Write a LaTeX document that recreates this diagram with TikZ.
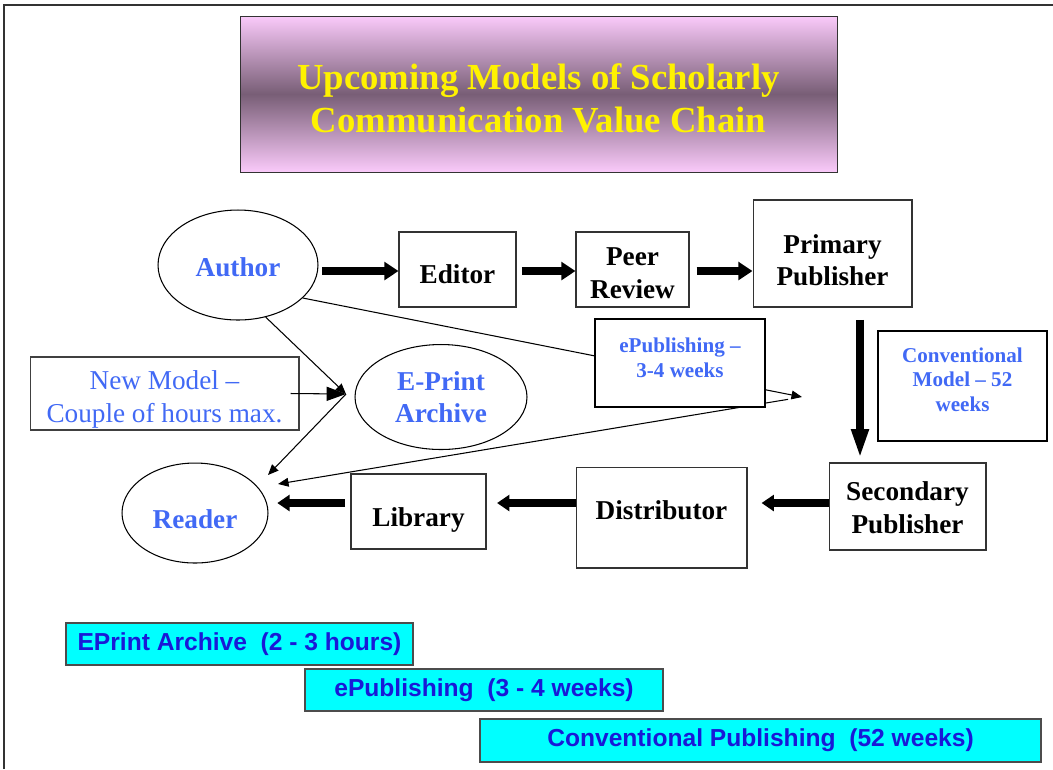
\documentclass[tikz,border=0pt]{standalone}
\usepackage{fontspec}
\setmainfont{Liberation Serif}
\setsansfont{Liberation Sans}
\usepackage{xcolor}
\usepackage{tikz}
\usetikzlibrary{positioning, arrows.meta, shapes.geometric}

\definecolor{titlepink}{RGB}{250,202,250}
\definecolor{titlemauve}{RGB}{120,94,118}
\definecolor{linkblue}{RGB}{65,105,245}
\definecolor{bandblue}{RGB}{25,25,215}
\definecolor{bandcyan}{RGB}{0,255,255}
\newcommand{\titlefnt}{\fontsize{20.9}{24.5}\selectfont\bfseries}
\newcommand{\boxfnt}{\fontsize{15.5}{18.5}\selectfont\bfseries}
\newcommand{\modelfnt}{\fontsize{15.5}{18.5}\selectfont}
\newcommand{\notefnt}{\fontsize{12}{14}\selectfont\bfseries}
\newcommand{\bandfnt}{\sffamily\bfseries\fontsize{14}{16}\selectfont}

\begin{document}
\begin{tikzpicture}[
    x=0.02cm, y=-0.02cm,
    % Styles
    titlebox/.style={draw=black!80, top color=titlepink, bottom color=titlepink,
        middle color=titlemauve, minimum width=11.94cm, minimum height=3.12cm},
    box/.style={draw=black!80, line width=0.6pt, fill=white},
    oval/.style={draw, ellipse, line width=0.6pt, fill=white, inner sep=0pt},
    modelbox/.style={draw=black!75, line width=0.6pt, fill=white},
    notebox/.style={draw, line width=1.1pt, fill=white},
    boxtext/.style={font=\boxfnt, align=center},
    bluetext/.style={font=\boxfnt, text=linkblue, align=center},
    modeltext/.style={font=\modelfnt, text=linkblue, align=center},
    notetext/.style={font=\notefnt, text=linkblue, align=center},
    band/.style={draw=black!70, line width=0.8pt, fill=bandcyan, font=\bandfnt,
        text=bandblue, minimum height=0.84cm},
    frame/.style={line width=1.2pt, black!80},
    fatarr/.style={-{Triangle[length=8pt,width=10pt]}, line width=4.5pt},
    droparr/.style={-{Triangle[length=17pt,width=9pt]}, line width=4.5pt},
    backarr/.style={-{Triangle[length=7pt,width=9pt]}, line width=4.5pt},
    thinarr/.style={-{Triangle[length=6pt,width=5pt]}, line width=0.6pt},
]
\useasboundingbox (0,0) rectangle (1053,769);

% ===== Slide frame =====
\draw[frame] (4,769) -- (4,5) -- (1053,5);

% ===== Title =====
\node[titlebox] (title) at (538.5,94) {};
\node[font=\titlefnt, text=yellow, align=center] at ([yshift=-0.08cm]title.center)
    {Upcoming Models of Scholarly\\Communication Value Chain};

% ===== Top row: conventional chain =====
\node[oval, minimum width=3.2cm, minimum height=2.2cm] (author) at (238,265) {};
\node[bluetext] at ([yshift=-0.04cm]author.center) {Author};
\node[box, minimum width=2.34cm, minimum height=1.5cm] (editor)
    at (457.5,269.5) {};
\node[boxtext] at ([yshift=-0.1cm]editor.center) {Editor};
\node[box, minimum width=2.26cm, minimum height=1.5cm] (peer)
    at (632.5,269.5) {};
\node[boxtext] at ([yshift=-0.07cm]peer.center) {Peer\\Review};
\node[box, minimum width=3.18cm, minimum height=2.14cm] (primary)
    at (832.5,253.5) {};
\node[boxtext] at ([yshift=-0.13cm]primary.center) {Primary\\Publisher};

\coordinate (toprow) at (0,271);
\draw[fatarr, shorten <=2pt] (author.east |- toprow) -- (editor.west |- toprow);
\draw[fatarr, shorten <=3pt] (editor.east |- toprow) -- (peer.west |- toprow);
\draw[fatarr, shorten <=4pt] (peer.east |- toprow) -- (primary.west |- toprow);

% ===== Bottom row =====
\node[box, minimum width=3.14cm, minimum height=1.74cm] (secondary)
    at (907.5,506.5) {};
\node[boxtext] at ([yshift=-0.02cm]secondary.center) {Secondary\\Publisher};
\node[box, minimum width=3.42cm, minimum height=2.02cm] (distributor)
    at (661.5,517.5) {};
\node[boxtext] at ([yshift=0.14cm]distributor.center) {Distributor};
\node[box, minimum width=2.7cm, minimum height=1.5cm] (library)
    at (418.5,511.5) {};
\node[boxtext] at ([yshift=-0.16cm]library.center) {Library};
\node[oval, minimum width=2.92cm, minimum height=2.0cm] (reader)
    at (195,513) {};
\node[bluetext] at ([yshift=-0.13cm]reader.center) {Reader};

% Drop from primary to secondary publisher
\coordinate (dropx) at ([xshift=0.55cm]primary.south);
\draw[droparr, shorten <=7pt, shorten >=2pt] (dropx) -- (dropx |- secondary.north);

\coordinate (lowrow) at (0,503);
\draw[backarr, shorten >=8pt] (secondary.west |- lowrow) -- (distributor.east |- lowrow);
\draw[backarr, shorten >=6pt] (distributor.west |- lowrow) -- (library.east |- lowrow);
\draw[backarr, shorten <=3pt, shorten >=5pt] (library.west |- lowrow) -- (reader.east |- lowrow);

% ===== Shortcut models =====
\node[oval, minimum width=3.44cm, minimum height=2.1cm] (eprint) at (441,397) {};
\node[bluetext] at (eprint.center) {E-Print\\Archive};
\node[modelbox, minimum width=5.38cm, minimum height=1.46cm] (newmodel)
    at (164.5,393.5) {};
\node[modeltext] at ([yshift=-0.12cm]newmodel.center)
    {New Model --\\Couple of hours max.};

\coordinate (eptip) at (346,394);
\coordinate (pubtip) at (802,397);
\coordinate (rdtipA) at (268,475);
\coordinate (rdtipB) at (278,484);

\draw[thinarr] (author.-62) -- (eptip);
\draw[thinarr, -{Triangle[length=11pt,width=8pt]}]
    ([xshift=-0.18cm]newmodel.east) -- (eptip);
\draw[thinarr] (eptip) -- (rdtipA);
\draw[thinarr] (author.-27) -- (pubtip);
\draw[thinarr, shorten <=8pt] (pubtip) -- (rdtipB);

% Labels on top of the lines
\node[notebox, minimum width=3.4cm, minimum height=1.76cm] (epub)
    at (680,363) {};
\node[notetext] at ([yshift=0.11cm]epub.center) {ePublishing --\\3-4 weeks};
\node[notebox, minimum width=3.38cm, minimum height=2.2cm] (conv)
    at (962.5,386) {};
\node[notetext] at ([yshift=0.13cm]conv.center) {Conventional\\Model -- 52\\weeks};

% ===== Timeline bands =====
\node[band, minimum width=6.94cm] (bandeprint) at (239.5,644)
    {EPrint Archive\ \ (2 - 3 hours)};
\node[band, minimum width=7.16cm] (bandepub) at (484,690)
    {ePublishing\ \ (3 - 4 weeks)};
\node[band, minimum width=11.22cm, minimum height=0.86cm] (bandconv)
    at (760.5,740.5) {Conventional Publishing\ \ (52 weeks)};

\end{tikzpicture}
\end{document}
